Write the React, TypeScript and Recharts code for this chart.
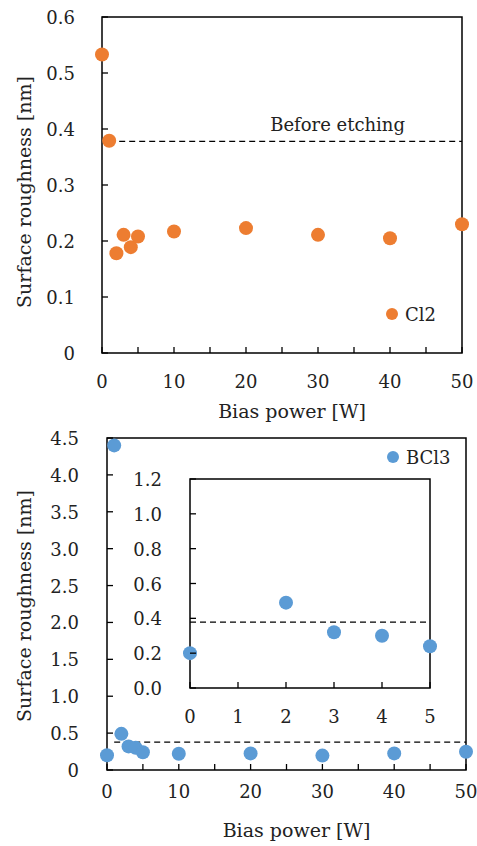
import {
  ScatterChart, Scatter, XAxis, YAxis, ReferenceLine, ReferenceArea, Legend, Label
} from 'recharts'

// Cl2 etching
const cl2Power = [0, 1, 2, 3, 4, 5, 10, 20, 30, 40, 50]
const cl2Roughness = [0.533, 0.379, 0.178, 0.211, 0.189, 0.208, 0.217, 0.223, 0.211, 0.205, 0.23]

// BCl3 etching
const bcl3Power = [0, 1, 2, 3, 4, 5, 10, 20, 30, 40, 50]
const bcl3Roughness = [0.2, 4.4, 0.49, 0.32, 0.3, 0.24, 0.22, 0.225, 0.195, 0.225, 0.248]

const beforeEtching = 0.378

const powerTicks = [0, 5, 10, 15, 20, 25, 30, 35, 40, 45, 50]
const cl2YTicks = [0, 0.1, 0.2, 0.3, 0.4, 0.5, 0.6]
const bcl3YTicks = [0, 0.5, 1, 1.5, 2, 2.5, 3, 3.5, 4, 4.5]
const insetXTicks = [0, 1, 2, 3, 4, 5]
const insetYTicks = [0, 0.2, 0.4, 0.6, 0.8, 1, 1.2]

const FONT = '"DejaVu Serif", "Liberation Serif", serif'
const TEXT = '#222'
const ORANGE = '#ED7D31'
const BLUE = '#5B9BD5'
const TICK_FS = 18
const TITLE_FS = 19

const toPoints = (xs: number[], ys: number[]) => xs.map((x, i) => ({ x, y: ys[i] }))
const cl2Data = toPoints(cl2Power, cl2Roughness)
const bcl3Data = toPoints(bcl3Power, bcl3Roughness)
const insetData = bcl3Data.filter(d => d.x <= 5 && d.y <= 1.2)

const dot = (color: string) => (p: any) => <circle cx={p.cx} cy={p.cy} r={7} fill={color} />

const fmtZero = (v: number) => (v === 0 ? '0' : v.toFixed(1))
const fmtFixed = (v: number) => v.toFixed(1)

// ticks point inward, labels sit outside
const xTick = (labelEvery: number, baseline: number) => (p: any) => {
  const v = p.payload.value
  const labelled = Math.abs(v / labelEvery - Math.round(v / labelEvery)) < 1e-6
  return (
    <g>
      <line x1={p.x} x2={p.x} y1={p.y} y2={p.y - 6} stroke="#000" strokeWidth={1.3} />
      {labelled && (
        <text x={p.x} y={p.y + baseline} textAnchor="middle" fontSize={TICK_FS} fontFamily={FONT} fill={TEXT}>{v}</text>
      )}
    </g>
  )
}

const yTick = (fmt: (v: number) => string, gap: number) => (p: any) => (
  <g>
    <line x1={p.x} x2={p.x + 6} y1={p.y} y2={p.y} stroke="#000" strokeWidth={1.3} />
    <text x={p.x - gap} y={p.y + 7} textAnchor="end" fontSize={TICK_FS} fontFamily={FONT} fill={TEXT}>
      {fmt(p.payload.value)}
    </text>
  </g>
)

const legendContent = (props: any) => (
  <svg width={80} height={24}>
    {(props.payload || []).map((item: any) => (
      <g key={item.value}>
        <circle cx={6} cy={12} r={6} fill={item.color} />
        <text x={19} y={19} fontSize={TICK_FS} fill={TEXT} fontFamily={FONT}>{item.value}</text>
      </g>
    ))}
  </svg>
)

const dashed = { stroke: '#000', strokeWidth: 1.2, strokeDasharray: '6 4' }

export default function App() {
  return (
    <div style={{ position: 'absolute', left: 0, top: 0, width: 477, height: 846, background: '#fff', fontFamily: FONT }}>
      <div style={{ position: 'absolute', left: 0, top: 0 }}>
        <ScatterChart width={477} height={430} margin={{ top: 17, right: 15, bottom: 0, left: 0 }}>
          <XAxis type="number" dataKey="x" domain={[0, 50]} ticks={powerTicks} interval={0}
            axisLine={false} tickLine={false} tickSize={0} tickMargin={0} height={77} tick={xTick(10, 35)}>
            <Label value="Bias power [W]" position="insideBottom" offset={12} dx={10}
              fontSize={TITLE_FS} fontFamily={FONT} fill={TEXT} />
          </XAxis>
          <YAxis type="number" dataKey="y" domain={[0, 0.6]} ticks={cl2YTicks} interval={0}
            axisLine={false} tickLine={false} tickSize={0} tickMargin={0} width={102} tick={yTick(fmtZero, 27)}>
            <Label value="Surface roughness [nm]" angle={-90} position="insideLeft" offset={24} dy={7}
              fontSize={TITLE_FS} fontFamily={FONT} fill={TEXT} style={{ textAnchor: 'middle' }} />
          </YAxis>
          <ReferenceArea x1={0} x2={50} y1={0} y2={0.6} fill="none" stroke="#000" strokeWidth={1.5} />
          <ReferenceLine segment={[{ x: 1, y: beforeEtching }, { x: 50, y: beforeEtching }]} {...dashed}>
            <Label value="Before etching" position="top" offset={10} dx={52}
              fontSize={TICK_FS} fontFamily={FONT} fill={TEXT} />
          </ReferenceLine>
          <Scatter name="Cl2" data={cl2Data} fill={ORANGE} shape={dot(ORANGE)} isAnimationActive={false} />
          <Legend layout="vertical" align="center" verticalAlign="middle"
            wrapperStyle={{ top: 302, left: 386, width: 80, height: 24 }} content={legendContent} />
        </ScatterChart>
      </div>

      <div style={{ position: 'absolute', left: 0, top: 420 }}>
        <ScatterChart width={477} height={426} margin={{ top: 18, right: 11, bottom: 0, left: 0 }}>
          <XAxis type="number" dataKey="x" domain={[0, 50]} ticks={powerTicks} interval={0}
            axisLine={false} tickLine={false} tickSize={0} tickMargin={0} height={76} tick={xTick(10, 28)}>
            <Label value="Bias power [W]" position="insideBottom" offset={9} dx={10}
              fontSize={TITLE_FS} fontFamily={FONT} fill={TEXT} />
          </XAxis>
          <YAxis type="number" dataKey="y" domain={[0, 4.5]} ticks={bcl3YTicks} interval={0}
            axisLine={false} tickLine={false} tickSize={0} tickMargin={0} width={107} tick={yTick(fmtZero, 28)}>
            <Label value="Surface roughness [nm]" angle={-90} position="insideLeft" offset={24} dy={2}
              fontSize={TITLE_FS} fontFamily={FONT} fill={TEXT} style={{ textAnchor: 'middle' }} />
          </YAxis>
          <ReferenceArea x1={0} x2={50} y1={0} y2={4.5} fill="none" stroke="#000" strokeWidth={1.5} />
          <ReferenceLine segment={[{ x: 1, y: beforeEtching }, { x: 50, y: beforeEtching }]} {...dashed} />
          <Scatter name="BCl3" data={bcl3Data} fill={BLUE} shape={dot(BLUE)} isAnimationActive={false} />
          <Legend layout="vertical" align="center" verticalAlign="middle"
            wrapperStyle={{ top: 25, left: 387, width: 80, height: 24 }} content={legendContent} />
        </ScatterChart>
      </div>

      <div style={{ position: 'absolute', left: 110, top: 458 }}>
        <ScatterChart width={340} height={282} margin={{ top: 21, right: 20, bottom: 0, left: 0 }}>
          <XAxis type="number" dataKey="x" domain={[0, 5]} ticks={insetXTicks} interval={0}
            axisLine={false} tickLine={false} tickSize={0} tickMargin={0} height={52} tick={xTick(1, 35)} />
          <YAxis type="number" dataKey="y" domain={[0, 1.2]} ticks={insetYTicks} interval={0}
            axisLine={false} tickLine={false} tickSize={0} tickMargin={0} width={80} tick={yTick(fmtFixed, 28)} />
          <ReferenceArea x1={0} x2={5} y1={0} y2={1.2} fill="none" stroke="#000" strokeWidth={1.5} />
          <ReferenceLine segment={[{ x: 0, y: beforeEtching }, { x: 5, y: beforeEtching }]} {...dashed} />
          <Scatter name="BCl3 inset" data={insetData} fill={BLUE} shape={dot(BLUE)} isAnimationActive={false} />
        </ScatterChart>
      </div>
    </div>
  )
}
